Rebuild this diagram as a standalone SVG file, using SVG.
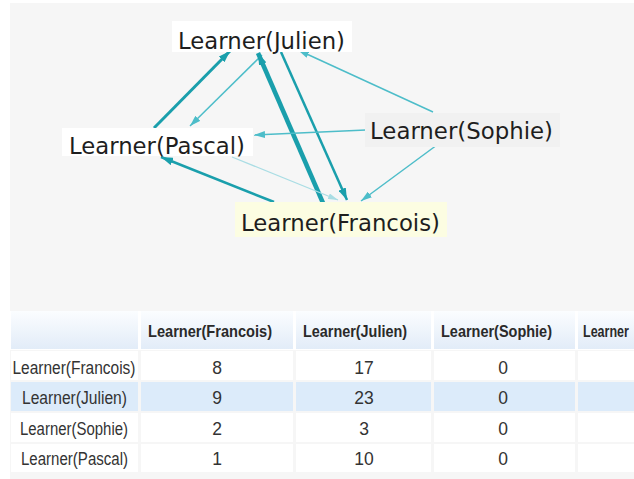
<svg xmlns="http://www.w3.org/2000/svg" width="634" height="479" viewBox="0 0 634 479">
<style>
.lbl{font-family:"DejaVu Sans","Noto Sans",sans-serif;font-size:22.5px;fill:#1e1e1e;text-anchor:middle}
.th{font-family:"Liberation Sans",Arial,sans-serif;font-size:16.5px;font-weight:bold;fill:#2a2a2a;text-anchor:middle}
.td{font-family:"Liberation Sans",Arial,sans-serif;font-size:17.5px;fill:#333;text-anchor:middle}
.e{fill:none;stroke-linecap:butt}
.c1{stroke:#1a9fac}
.c2{stroke:#4dbdc9}
.c3{stroke:#a9dde4}
.hc{fill:url(#hg)}
.cell{fill:#ffffff}
.sel{fill:#dcebfa}
</style>
<defs>
<linearGradient id="hg" x1="0" y1="0" x2="0" y2="1">
<stop offset="0" stop-color="#fbfdff"/>
<stop offset="1" stop-color="#e2ecf8"/>
</linearGradient>
<marker id="a1" markerUnits="userSpaceOnUse" markerWidth="12" markerHeight="8" refX="12" refY="4" orient="auto"><path d="M0,0 L12,4 L0,8 z" fill="#1a9fac"/></marker>
<marker id="a2" markerUnits="userSpaceOnUse" markerWidth="11" markerHeight="7" refX="11" refY="3.5" orient="auto"><path d="M0,0 L11,3.5 L0,7 z" fill="#4dbdc9"/></marker>
<marker id="a3" markerUnits="userSpaceOnUse" markerWidth="10" markerHeight="6" refX="10" refY="3" orient="auto"><path d="M0,0 L10,3 L0,6 z" fill="#a9dde4"/></marker>
</defs>
<rect x="0" y="0" width="634" height="479" fill="#ffffff"/>
<rect x="10" y="3" width="624" height="476" fill="#f6f6f6"/>

<g id="connectors">
<line class="e c1" x1="154" y1="128" x2="230" y2="51" stroke-width="3" marker-end="url(#a1)"/>
<line class="e c2" x1="262" y1="55" x2="190" y2="126" stroke-width="1.5" marker-end="url(#a2)"/>
<line class="e c1" x1="323" y1="203" x2="258" y2="53" stroke-width="4.5" marker-end="url(#a1)"/>
<line class="e c1" x1="281" y1="52" x2="347" y2="200" stroke-width="2.5" marker-end="url(#a1)"/>
<line class="e c2" x1="433" y1="112" x2="298" y2="50" stroke-width="1.5" marker-end="url(#a2)"/>
<line class="e c2" x1="366" y1="130" x2="254" y2="135" stroke-width="1.5" marker-end="url(#a2)"/>
<line class="e c2" x1="441" y1="142" x2="361" y2="201" stroke-width="1.5" marker-end="url(#a2)"/>
<line class="e c1" x1="274" y1="202" x2="161" y2="157" stroke-width="2.5" marker-end="url(#a1)"/>
<line class="e c3" x1="232" y1="157" x2="338" y2="200" stroke-width="1.2" marker-end="url(#a3)"/>
</g>

<g id="node-julien">
<rect x="172" y="21" width="180" height="31" fill="#ffffff"/>
<text class="lbl" x="261.5" y="49" textLength="167" lengthAdjust="spacingAndGlyphs">Learner(Julien)</text>
</g>
<g id="node-pascal">
<rect x="62" y="128" width="191" height="28" fill="#ffffff"/>
<text class="lbl" x="157" y="154" textLength="176" lengthAdjust="spacingAndGlyphs">Learner(Pascal)</text>
</g>
<g id="node-sophie">
<rect x="365" y="113" width="195" height="34" fill="#f1f1f1"/>
<text class="lbl" x="461.5" y="139" textLength="183" lengthAdjust="spacingAndGlyphs">Learner(Sophie)</text>
</g>
<g id="node-francois">
<rect x="235" y="202" width="212" height="35" fill="#fcfde2"/>
<text class="lbl" x="340.5" y="231" textLength="199" lengthAdjust="spacingAndGlyphs">Learner(Francois)</text>
</g>

<g id="table">
<rect x="10" y="311" width="624" height="39" fill="#ffffff"/>
<rect class="hc" x="11" y="311" width="127" height="38"/>
<rect class="hc" x="141" y="311" width="152" height="38"/>
<rect class="hc" x="296" y="311" width="135" height="38"/>
<rect class="hc" x="434" y="311" width="141" height="38"/>
<rect class="hc" x="578" y="311" width="56" height="38"/>
<text class="th" x="210" y="337" textLength="124" lengthAdjust="spacingAndGlyphs">Learner(Francois)</text>
<text class="th" x="355" y="337" textLength="104" lengthAdjust="spacingAndGlyphs">Learner(Julien)</text>
<text class="th" x="496.5" y="337" textLength="111" lengthAdjust="spacingAndGlyphs">Learner(Sophie)</text>
<text class="th" transform="translate(583,337) scale(0.76,1)" x="0" y="0" style="text-anchor:start">Learner</text>

<g>
<rect class="cell" x="11" y="351" width="127" height="29"/>
<rect class="cell" x="141" y="351" width="152" height="29"/>
<rect class="cell" x="296" y="351" width="135" height="29"/>
<rect class="cell" x="434" y="351" width="141" height="29"/>
<rect class="cell" x="578" y="351" width="56" height="29"/>
<text class="td" x="74" y="374" textLength="123" lengthAdjust="spacingAndGlyphs">Learner(Francois)</text>
<text class="td" x="217" y="374">8</text>
<text class="td" x="364" y="374">17</text>
<text class="td" x="503" y="374">0</text>
</g>
<g>
<rect class="sel" x="11" y="382" width="127" height="29"/>
<rect class="sel" x="141" y="382" width="152" height="29"/>
<rect class="sel" x="296" y="382" width="135" height="29"/>
<rect class="sel" x="434" y="382" width="141" height="29"/>
<rect class="sel" x="578" y="382" width="56" height="29"/>
<text class="td" x="74.5" y="404" textLength="105" lengthAdjust="spacingAndGlyphs">Learner(Julien)</text>
<text class="td" x="217" y="404">9</text>
<text class="td" x="364" y="404">23</text>
<text class="td" x="503" y="404">0</text>
</g>
<g>
<rect class="cell" x="11" y="413" width="127" height="29"/>
<rect class="cell" x="141" y="413" width="152" height="29"/>
<rect class="cell" x="296" y="413" width="135" height="29"/>
<rect class="cell" x="434" y="413" width="141" height="29"/>
<rect class="cell" x="578" y="413" width="56" height="29"/>
<text class="td" x="74" y="435" textLength="108" lengthAdjust="spacingAndGlyphs">Learner(Sophie)</text>
<text class="td" x="217" y="435">2</text>
<text class="td" x="364" y="435">3</text>
<text class="td" x="503" y="435">0</text>
</g>
<g>
<rect class="cell" x="11" y="444" width="127" height="28"/>
<rect class="cell" x="141" y="444" width="152" height="28"/>
<rect class="cell" x="296" y="444" width="135" height="28"/>
<rect class="cell" x="434" y="444" width="141" height="28"/>
<rect class="cell" x="578" y="444" width="56" height="28"/>
<text class="td" x="74.5" y="465" textLength="107" lengthAdjust="spacingAndGlyphs">Learner(Pascal)</text>
<text class="td" x="217" y="465">1</text>
<text class="td" x="364" y="465">10</text>
<text class="td" x="503" y="465">0</text>
</g>
</g>
</svg>
